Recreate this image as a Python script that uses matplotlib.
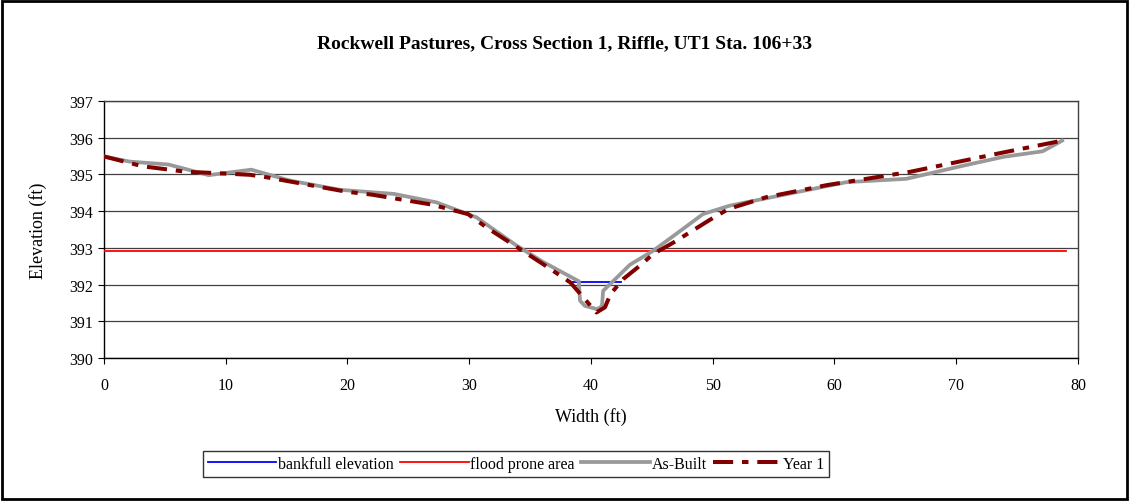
import matplotlib.pyplot as plt
from matplotlib.lines import Line2D
from matplotlib.patches import Rectangle

plt.rcParams['font.family'] = ['Liberation Serif', 'DejaVu Serif']

# As-Built survey
asbuilt_x = [0, 2.1, 5.3, 8.6, 12.1, 15.3, 19.4, 23.8, 27.3, 30.6, 33.9, 36.1,
             39.0, 39.1, 39.5, 40.5, 40.9, 41.0, 42.0, 43.2, 45.1, 46.8, 49.2,
             51.4, 61.0, 65.9, 70.6, 73.9, 77.1, 78.7]
asbuilt_y = [395.49, 395.35, 395.27, 394.98, 395.13, 394.83, 394.58, 394.47,
             394.24, 393.83, 393.06, 392.61, 392.09, 391.56, 391.42, 391.33,
             391.41, 391.83, 392.15, 392.54, 392.92, 393.33, 393.92, 394.15,
             394.79, 394.88, 395.24, 395.48, 395.63, 395.92]

# Year 1 survey
year1_x = [0, 3.2, 6.8, 8.3, 12.0, 13.4, 19.9, 22.0, 26.9, 29.9, 31.4, 36.1,
           38.3, 39.5, 40.45, 41.15, 41.6, 42.65, 44.0, 45.1, 46.8, 49.8, 51.3,
           54.4, 59.4, 66.2, 73.6, 78.7]
year1_y = [395.49, 395.22, 395.07, 395.05, 394.99, 394.92, 394.53, 394.45,
           394.18, 393.92, 393.56, 392.55, 392.06, 391.6, 391.24, 391.38,
           391.74, 392.15, 392.51, 392.83, 393.15, 393.77, 394.06, 394.38,
           394.71, 395.07, 395.58, 395.92]

bankfull_x = [38.1, 42.5]
bankfull_y = [392.06, 392.06]
flood_x = [0, 79]
flood_y = [392.92, 392.92]

Y1_DASH = (5, 2.2, 1.6, 2.2)

fig = plt.figure(figsize=(11.29, 5.02), dpi=100)
ax = fig.add_axes([0.0921, 0.2849, 0.8627, 0.5119])

ax.plot(bankfull_x, bankfull_y, color='#0000ff', lw=1.3, zorder=3)
ax.plot(flood_x, flood_y, color='#ff0000', lw=1.3, zorder=3)
ax.plot(asbuilt_x, asbuilt_y, color='#999999', lw=2.7, zorder=4)
ax.plot(year1_x, year1_y, color='#800000', lw=2.9, dashes=Y1_DASH, zorder=5)

ax.set_xlim(0, 80)
ax.set_ylim(390, 397)
ax.set_xticks(range(0, 81, 10))
ax.set_yticks(range(390, 398))
ax.grid(axis='y', color='#404040', lw=0.9)
ax.set_axisbelow(True)
for s in ax.spines.values():
    s.set_color('#404040')
    s.set_linewidth(1.0)
ax.spines['left'].set_color('black')
ax.spines['bottom'].set_color('black')
ax.tick_params(labelsize=11.5, length=4, direction='out', colors='black')
ax.tick_params(axis='x', pad=10)
ax.tick_params(axis='y', pad=4)

ax.set_xlabel('Width (ft)', fontsize=13, labelpad=10)
ax.set_ylabel('Elevation (ft)', fontsize=13, labelpad=16)
fig.text(0.5, 0.913, 'Rockwell Pastures, Cross Section 1, Riffle, UT1 Sta. 106+33',
         ha='center', va='center', fontsize=14, fontweight='bold')

handles = [
    Line2D([], [], color='#0000ff', lw=1.3),
    Line2D([], [], color='#ff0000', lw=1.3),
    Line2D([], [], color='#999999', lw=2.7),
    Line2D([], [], color='#800000', lw=2.9, dashes=Y1_DASH),
]
labels = ['bankfull elevation', 'flood prone area', 'As-Built', 'Year 1']
leg = fig.legend(handles, labels, loc='center', bbox_to_anchor=(0.457, 0.074),
                 ncol=4, fontsize=11.5, frameon=True, fancybox=False,
                 edgecolor='black', handlelength=4.3, handletextpad=0.1,
                 columnspacing=0.4, borderpad=0.3)
leg.get_frame().set_linewidth(1.0)

fig.patches.append(Rectangle((0.002, 0.003), 0.996, 0.994, transform=fig.transFigure,
                             fill=False, edgecolor='black', lw=2.0))

fig.savefig('out.png', dpi=100)
